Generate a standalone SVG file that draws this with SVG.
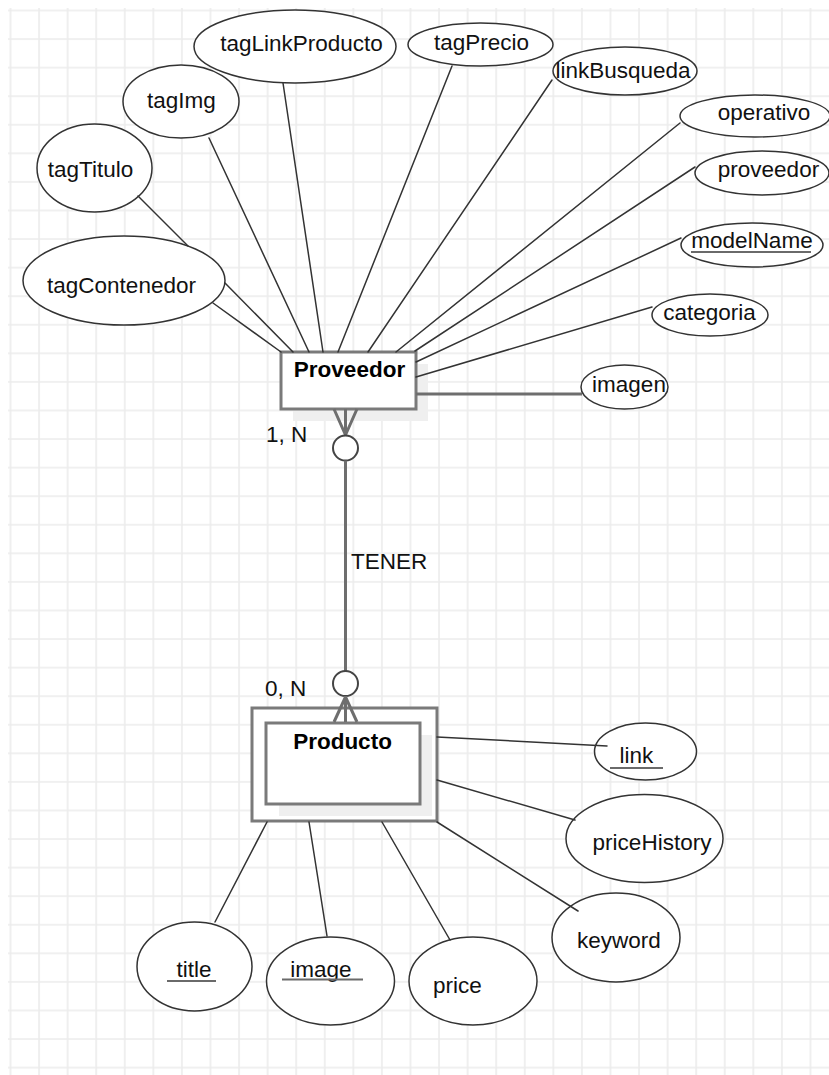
<svg xmlns="http://www.w3.org/2000/svg" width="829" height="1075" viewBox="0 0 829 1075">
  <defs>
    <pattern id="grid" x="9.5" y="9.5" width="28.571" height="28.571" patternUnits="userSpaceOnUse">
      <path d="M0 1H28.571M1 0V28.571" stroke="#ececec" stroke-width="1.6" fill="none"/>
    </pattern>
    <style>
      .attr { fill: #ffffff; stroke: #333333; stroke-width: 1.5; }
      .entity { fill: #ffffff; stroke: #7a7a7a; stroke-width: 3; }
      .shadow { fill: #efefef; stroke: none; }
      .lbl { font-family: "Liberation Sans", Arial, sans-serif; font-size: 22.5px; fill: #111111; text-anchor: middle; }
      .title { font-family: "Liberation Sans", Arial, sans-serif; font-size: 22.5px; font-weight: bold; fill: #000000; text-anchor: middle; }
      .card { font-family: "Liberation Sans", Arial, sans-serif; font-size: 22.5px; fill: #111111; }
      .key { stroke: #6a6a6a; stroke-width: 2; fill: none; }
      .link { stroke: #333333; stroke-width: 1.5; fill: none; stroke-linecap: round; }
      .rel { stroke: #6e6e6e; stroke-width: 3; fill: none; }
      .circ { fill: #ffffff; stroke: #444444; stroke-width: 2; }
    </style>
  </defs>

  <!-- background and grid -->
  <rect x="0" y="0" width="829" height="1075" fill="#ffffff"/>
  <rect x="8" y="8" width="821" height="1067" fill="url(#grid)"/>

  <!-- entity: Proveedor -->
  <g id="proveedor-entity">
    <rect class="shadow" x="293" y="364" width="135" height="57"/>
    <rect class="entity" x="281" y="352" width="135" height="57"/>
    <text class="title" x="349.5" y="377">Proveedor</text>
  </g>

  <!-- weak entity: Producto -->
  <g id="producto-entity">
    <rect class="entity" x="252" y="708" width="185" height="113"/>
    <rect class="shadow" x="279" y="735" width="153" height="81"/>
    <rect class="entity" x="266" y="723" width="154" height="81"/>
    <text class="title" x="342.5" y="749">Producto</text>
  </g>

  <!-- Proveedor attributes -->
  <g id="attr-tagTitulo">
    <ellipse class="attr" cx="94.5" cy="168" rx="57.5" ry="44"/>
    <text class="lbl" x="90.5" y="177">tagTitulo</text>
  </g>
  <g id="attr-tagContenedor">
    <ellipse class="attr" cx="124" cy="280.5" rx="101" ry="44.5"/>
    <text class="lbl" x="121.5" y="293">tagContenedor</text>
  </g>
  <g id="attr-tagImg">
    <ellipse class="attr" cx="181" cy="101.5" rx="58" ry="36.5"/>
    <text class="lbl" x="181.5" y="108">tagImg</text>
  </g>
  <g id="attr-tagLinkProducto">
    <ellipse class="attr" cx="295" cy="46.5" rx="101" ry="36.5"/>
    <text class="lbl" x="301.5" y="51">tagLinkProducto</text>
  </g>
  <g id="attr-tagPrecio">
    <ellipse class="attr" cx="480.5" cy="44.5" rx="72.5" ry="21.5"/>
    <text class="lbl" x="481.5" y="50">tagPrecio</text>
  </g>
  <g id="attr-linkBusqueda">
    <ellipse class="attr" cx="625" cy="71" rx="72" ry="24"/>
    <text class="lbl" x="623" y="78">linkBusqueda</text>
  </g>
  <g id="attr-operativo">
    <ellipse class="attr" cx="755" cy="116" rx="75" ry="21"/>
    <text class="lbl" x="764" y="120">operativo</text>
  </g>
  <g id="attr-proveedor">
    <ellipse class="attr" cx="762" cy="173" rx="67" ry="22"/>
    <text class="lbl" x="768.5" y="177">proveedor</text>
  </g>
  <g id="attr-modelName">
    <ellipse class="attr" cx="752" cy="245" rx="71" ry="22"/>
    <text class="lbl" x="752" y="248">modelName</text>
    <line class="key" x1="691" y1="252" x2="811" y2="252"/>
  </g>
  <g id="attr-categoria">
    <ellipse class="attr" cx="710" cy="315" rx="58" ry="21"/>
    <text class="lbl" x="709.5" y="320">categoria</text>
  </g>
  <g id="attr-imagen">
    <ellipse class="attr" cx="624.5" cy="387" rx="43.5" ry="22"/>
    <text class="lbl" x="629" y="392">imagen</text>
  </g>

  <!-- Producto attributes -->
  <g id="attr-link">
    <ellipse class="attr" cx="645.5" cy="751.5" rx="51" ry="28.5"/>
    <text class="lbl" x="636.5" y="763">link</text>
    <line class="key" x1="610" y1="768" x2="663" y2="768"/>
  </g>
  <g id="attr-priceHistory">
    <ellipse class="attr" cx="644.5" cy="838.5" rx="78.5" ry="44"/>
    <text class="lbl" x="652" y="850">priceHistory</text>
  </g>
  <g id="attr-keyword">
    <ellipse class="attr" cx="616" cy="937.5" rx="64" ry="44.5"/>
    <text class="lbl" x="619" y="948">keyword</text>
  </g>
  <g id="attr-title">
    <ellipse class="attr" cx="194.5" cy="966.5" rx="57.5" ry="44.5"/>
    <text class="lbl" x="194" y="977">title</text>
    <line class="key" x1="167" y1="981" x2="216" y2="981"/>
  </g>
  <g id="attr-image">
    <ellipse class="attr" cx="330.5" cy="981" rx="64" ry="44"/>
    <text class="lbl" x="321" y="977">image</text>
    <line class="key" x1="282" y1="979.5" x2="363" y2="979.5"/>
  </g>
  <g id="attr-price">
    <ellipse class="attr" cx="473" cy="981" rx="64" ry="44"/>
    <text class="lbl" x="457.5" y="993">price</text>
  </g>

  <!-- relationship TENER -->
  <g id="rel-tener">
    <text class="card" x="351" y="569">TENER</text>
    <text class="card" x="266" y="442">1, N</text>
    <text class="card" x="265" y="696">0, N</text>
  </g>

  <!-- connectors -->
  <g id="connectors">
    <!-- Proveedor attribute links -->
    <line class="link" x1="138" y1="196" x2="188" y2="246"/>
    <line class="link" x1="225" y1="283" x2="293" y2="352"/>
    <line class="link" x1="213" y1="303" x2="281" y2="352"/>
    <line class="link" x1="209" y1="138" x2="309" y2="352"/>
    <line class="link" x1="283" y1="83" x2="323" y2="352"/>
    <line class="link" x1="452" y1="66" x2="338" y2="352"/>
    <line class="link" x1="552" y1="80" x2="368" y2="352"/>
    <line class="link" x1="680" y1="123" x2="396" y2="352"/>
    <line class="link" x1="695" y1="167" x2="415" y2="351"/>
    <line class="link" x1="681" y1="238" x2="416" y2="362"/>
    <line class="link" x1="652" y1="307" x2="416" y2="377"/>
    <line class="rel" x1="416" y1="394" x2="582" y2="394"/>

    <!-- Producto attribute links -->
    <line class="link" x1="437" y1="737" x2="607" y2="746"/>
    <line class="link" x1="437" y1="780" x2="575" y2="820"/>
    <line class="link" x1="437" y1="822" x2="578" y2="911"/>
    <line class="link" x1="267" y1="822" x2="215" y2="922"/>
    <line class="link" x1="309" y1="822" x2="327" y2="936"/>
    <line class="link" x1="382" y1="822" x2="450" y2="940"/>

    <!-- TENER: Proveedor side (1, N) -->
    <path class="rel" d="M334 409L345.5 435M357 409L345.5 435M345.5 409V436"/>
    <circle class="circ" cx="345.5" cy="448" r="12.5"/>
    <line class="rel" x1="345.5" y1="460.5" x2="345.5" y2="671"/>
    <!-- TENER: Producto side (0, N) -->
    <circle class="circ" cx="345.5" cy="683.5" r="12.5"/>
    <path class="rel" d="M345.5 697L334 722M345.5 697L357 722M345.5 696V722"/>
  </g>
</svg>
